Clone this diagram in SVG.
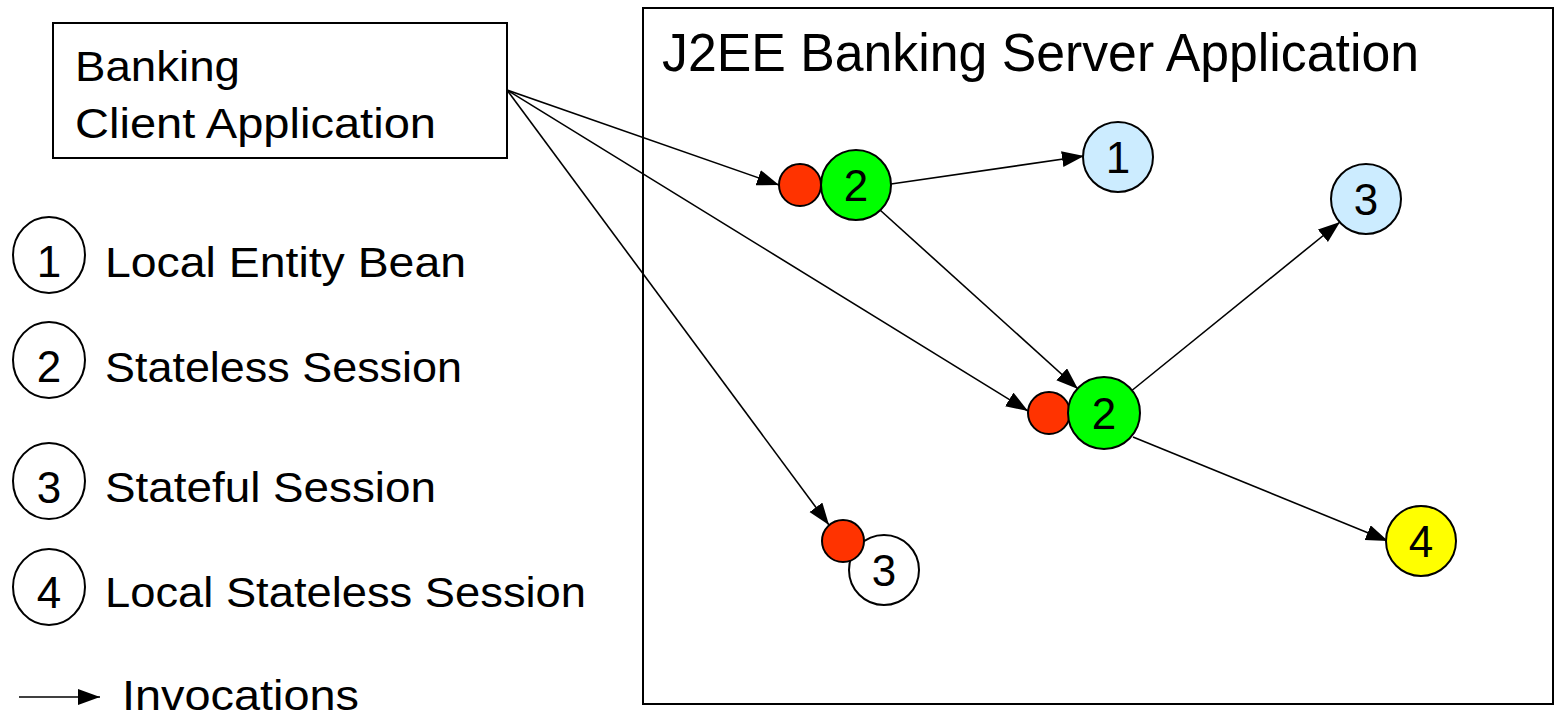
<svg xmlns="http://www.w3.org/2000/svg" width="1556" height="717" viewBox="0 0 1556 717">
<style>
  text { font-family: "Liberation Sans", Arial, sans-serif; fill: #000; }
  .lbl { font-size: 43px; }
  .num { font-size: 44px; text-anchor: middle; }
  .box { fill: #fff; stroke: #000; stroke-width: 2; }
  .node { stroke: #000; stroke-width: 2; }
  .leg { fill: none; stroke: #000; stroke-width: 2; }
  .red { fill: #FF3300; }
  .green { fill: #00FF00; }
  .blue { fill: #CCECFF; }
  .yellow { fill: #FFFF00; }
  .white { fill: #FFFFFF; }
  .conn { fill: none; stroke: #000; stroke-width: 1.6; marker-end: url(#arrow); }
</style>
<defs>
  <marker id="arrow" markerUnits="userSpaceOnUse" markerWidth="24" markerHeight="18" refX="22" refY="8" orient="auto">
    <path d="M0,0 L22,8 L0,16 Z" fill="#000"/>
  </marker>
</defs>
<rect width="1556" height="717" fill="#fff"/>

<g id="server">
  <rect class="box" x="643" y="8" width="910" height="696"/>
  <text x="662" y="71" style="font-size:53px" textLength="757" lengthAdjust="spacingAndGlyphs">J2EE Banking Server Application</text>
</g>

<g id="client">
  <rect class="box" x="53" y="23" width="454" height="135"/>
  <text class="lbl" x="75" y="81" textLength="165" lengthAdjust="spacingAndGlyphs">Banking</text>
  <text class="lbl" x="75" y="138" textLength="361" lengthAdjust="spacingAndGlyphs">Client Application</text>
</g>

<g id="legend">
  <g id="legend-1">
    <ellipse class="leg" cx="49" cy="255" rx="36" ry="38"/>
    <text class="num" x="49" y="277">1</text>
    <text class="lbl" x="105" y="277" textLength="361" lengthAdjust="spacingAndGlyphs">Local Entity Bean</text>
  </g>
  <g id="legend-2">
    <ellipse class="leg" cx="49" cy="360" rx="36" ry="38"/>
    <text class="num" x="49" y="382">2</text>
    <text class="lbl" x="105" y="382" textLength="357" lengthAdjust="spacingAndGlyphs">Stateless Session</text>
  </g>
  <g id="legend-3">
    <ellipse class="leg" cx="49" cy="481" rx="36" ry="38"/>
    <text class="num" x="49" y="503">3</text>
    <text class="lbl" x="105" y="502" textLength="331" lengthAdjust="spacingAndGlyphs">Stateful Session</text>
  </g>
  <g id="legend-4">
    <ellipse class="leg" cx="49" cy="587" rx="36" ry="38"/>
    <text class="num" x="49" y="608">4</text>
    <text class="lbl" x="105" y="607" textLength="481" lengthAdjust="spacingAndGlyphs">Local Stateless Session</text>
  </g>
  <g id="legend-invocations">
    <line class="conn" x1="19" y1="697" x2="100" y2="697"/>
    <text class="lbl" x="122" y="710" textLength="237" lengthAdjust="spacingAndGlyphs">Invocations</text>
  </g>
</g>

<g id="connectors">
  <line class="conn" x1="507" y1="90" x2="779" y2="185"/>
  <line class="conn" x1="507" y1="90" x2="1028" y2="411"/>
  <line class="conn" x1="507" y1="90" x2="829" y2="525"/>
  <line class="conn" x1="891" y1="184" x2="1084" y2="156"/>
  <line class="conn" x1="880" y1="210" x2="1078" y2="389"/>
  <line class="conn" x1="1130" y1="392" x2="1340" y2="222"/>
  <line class="conn" x1="1133" y1="437" x2="1388" y2="541"/>
</g>

<g id="node-2a">
  <circle class="node red" cx="800" cy="185" r="21"/>
  <circle class="node green" cx="856" cy="185" r="35"/>
  <text class="num" x="856" y="201">2</text>
</g>
<g id="node-1">
  <circle class="node blue" cx="1118" cy="157" r="35"/>
  <text class="num" x="1118" y="173">1</text>
</g>
<g id="node-3a">
  <circle class="node blue" cx="1366" cy="199" r="35"/>
  <text class="num" x="1366" y="215">3</text>
</g>
<g id="node-2b">
  <circle class="node red" cx="1049" cy="413" r="21"/>
  <circle class="node green" cx="1104" cy="413" r="36"/>
  <text class="num" x="1104" y="429">2</text>
</g>
<g id="node-3b">
  <circle class="node white" cx="884" cy="570" r="35"/>
  <circle class="node red" cx="843" cy="541" r="21"/>
  <text class="num" x="884" y="586">3</text>
</g>
<g id="node-4">
  <circle class="node yellow" cx="1421" cy="541" r="35"/>
  <text class="num" x="1421" y="557">4</text>
</g>
</svg>
